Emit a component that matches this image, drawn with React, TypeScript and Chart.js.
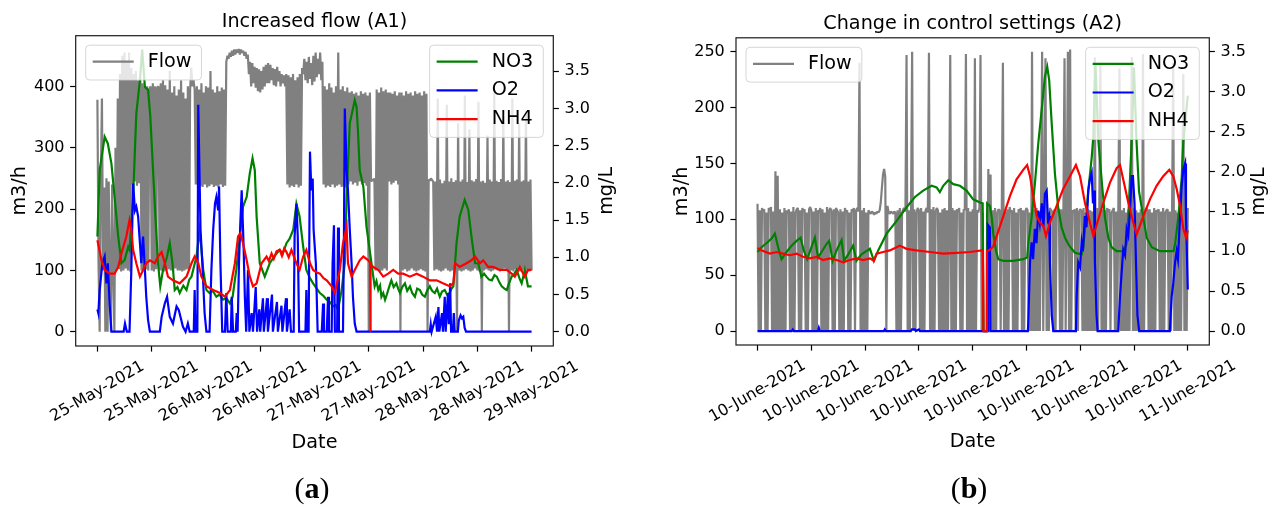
import React, { useEffect, useRef } from "react";
import { Chart, registerables } from "chart.js";

Chart.register(...registerables);

const FONT = '"DejaVu Sans", sans-serif';

// ---------------- Panel (a): Increased flow (A1) ----------------
const TICK_LABELS_A = ["25-May-2021", "25-May-2021", "26-May-2021", "26-May-2021", "27-May-2021", "27-May-2021", "28-May-2021", "28-May-2021", "29-May-2021"];
const TICK_HOURS_A = [0, 12, 24, 36, 48, 60, 72, 84, 96];
const SPAN_A_HOURS = 96;

// Flow (m3/h), evenly sampled over the 96 h window
const FLOW_A = [
  378, 110, 0, 240, 380, 100, 235, 0, 250, 0, 245, 100, 0, 240, 105, 0,
  300, 100, 380, 102, 420,
  98, 450, 100, 455, 103, 440, 100, 455, 98, 430,
  240, 420, 245, 425, 238, 410, 242,
  410, 100, 405, 98, 400, 102,
  400, 100, 395, 400, 100, 405, 98, 400, 102, 398, 400, 100, 405, 100, 410, 98, 402,
  100, 395, 102, 425, 100, 390, 98, 400, 103, 385, 100, 395, 100, 410, 98, 390, 100, 380, 102, 400, 100, 395, 430, 400, 410, 395,
  240, 400, 235, 395, 238, 405, 236, 390, 240, 400, 235, 398, 237, 425, 240, 395, 236, 390, 238, 400, 235, 392, 240, 398, 236, 395, 238,
  440, 450, 445, 455, 448, 458, 450, 460, 452, 460, 455, 461, 452, 460, 455, 458, 450, 456, 445, 452,
  420, 440, 400, 438, 405, 432, 398, 430, 392, 428, 390, 425, 395, 432, 400, 435, 405, 438,
  405, 435, 410, 430, 402, 428, 400, 432, 408, 425, 400, 420, 405, 418, 400,
  420, 240, 418, 235, 415, 238, 420, 236, 410, 240, 415, 235, 420, 238, 430,
  420, 445, 410, 440, 405, 448, 412, 438, 402, 450, 408, 455, 415, 445, 420, 455, 410, 440,
  240, 400, 235, 395, 238, 405, 236, 398, 240, 390, 235, 400, 238, 455, 240, 395, 236, 400, 238, 392, 235, 398, 240, 390,
  245, 392, 240, 388, 243, 390, 238, 385, 245, 392, 240, 388, 242, 390, 238, 385, 0, 390, 245, 248, 246, 250,
  100, 395, 102, 390, 98, 398, 100, 392, 103, 395, 100, 390,
  245, 390, 240, 388, 243, 392, 246, 385, 240, 390,
  0, 390, 100, 385, 102, 392, 98, 388, 100, 390, 103, 385, 100, 392, 98, 388, 100, 390, 102, 385, 100, 392, 98, 388,
  0, 248, 246, 250, 247, 245,
  100, 245, 102, 380, 100, 248, 98, 242, 100, 246, 103, 370, 100, 245, 98, 250, 100, 244, 102, 247,
  0, 340, 100, 245, 98, 248, 100, 385, 102, 244, 100, 330, 98, 247, 100, 245, 103, 249, 100, 375,
  98, 245, 0, 246, 100, 243, 102, 320, 100, 248, 98, 245, 100, 390, 102, 246, 100, 244, 98, 249,
  100, 350, 103, 245, 100, 247, 0, 244, 100, 380, 98, 246, 102, 248, 100, 340, 98, 245, 100, 247,
  102, 360, 100, 245, 98, 248, 100,
];

// [hour, mg/L]
const NO3_A = [
  [0, 1.28], [0.5, 2.17], [1.6, 2.62], [2.3, 2.53], [3.1, 2.26], [3.8, 1.81], [4.6, 1.28], [5.3, 0.92], [6.0, 0.96],
  [6.8, 1.14], [7.1, 1.1], [7.9, 1.81], [8.6, 2.93], [9.4, 3.38], [9.9, 3.79], [10.5, 3.29], [11.2, 3.25], [11.7, 2.89],
  [12.3, 2.17], [12.9, 1.46], [13.4, 0.92], [13.9, 0.61], [14.5, 0.83], [15.4, 1.01], [16.0, 1.19], [16.6, 0.92],
  [17.1, 0.56], [17.7, 0.6], [18.2, 0.52], [19.0, 0.62], [19.7, 0.56], [20.3, 0.7], [20.8, 0.74], [21.9, 1.01], [22.6, 1.37],
  [23.4, 0.83], [24.1, 0.56], [24.8, 0.52], [25.5, 0.55], [26.3, 0.47], [27.0, 0.5], [27.8, 0.43], [28.5, 0.45], [29.3, 0.38],
  [29.9, 0.47], [30.7, 0.83], [31.5, 1.28], [32.2, 1.68], [33.0, 1.81], [33.7, 2.13], [34.3, 2.33], [34.8, 2.17],
  [35.2, 1.55], [35.9, 0.92], [37.0, 0.74], [38.1, 0.92], [39.2, 1.02], [40.3, 1.1], [41.0, 1.05], [41.8, 1.19], [42.5, 1.25],
  [43.3, 1.37], [44.0, 1.72], [44.7, 1.55], [45.5, 1.14], [46.2, 0.83], [47.0, 0.72], [47.7, 0.65], [48.5, 0.58],
  [49.2, 0.52], [50.0, 0.48], [50.7, 0.43], [51.4, 0.4], [52.1, 0.34], [52.7, 0.36], [53.2, 0.29], [54.0, 0.56], [54.7, 0.92],
  [55.1, 1.81], [55.8, 2.8], [56.9, 3.11], [57.3, 3.02], [57.6, 2.71], [58.0, 2.17], [58.8, 1.95], [59.5, 1.41],
  [60.2, 1.1], [61.0, 0.74], [61.3, 0.61], [61.7, 0.68], [62.1, 0.56], [62.5, 0.62], [62.8, 0.47], [63.2, 0.52], [63.6, 0.43],
  [64.0, 0.5], [64.3, 0.56], [64.7, 0.64], [65.0, 0.69], [65.5, 0.6], [66.1, 0.65], [66.5, 0.58], [66.9, 0.52], [67.4, 0.6],
  [68.0, 0.65], [68.5, 0.55], [69.1, 0.61], [69.6, 0.52], [70.2, 0.47], [70.7, 0.58], [71.3, 0.56], [71.8, 0.5],
  [72.4, 0.47], [72.9, 0.55], [73.5, 0.61], [74.0, 0.55], [74.6, 0.52], [75.1, 0.58], [75.7, 0.47], [76.2, 0.54],
  [76.8, 0.56], [77.3, 0.5], [77.9, 0.52], [78.3, 0.58], [78.7, 0.61], [79.4, 1.19], [80.1, 1.55], [81.2, 1.77],
  [82.0, 1.64], [82.7, 1.28], [83.5, 0.92], [84.2, 0.92], [84.9, 0.74], [85.5, 0.78], [86.0, 0.74], [86.6, 0.7],
  [87.2, 0.69], [87.8, 0.76], [88.3, 0.74], [88.9, 0.66], [89.4, 0.61], [90.0, 0.58], [90.5, 0.56], [91.0, 0.65],
  [91.6, 0.74], [92.2, 0.78], [92.7, 0.83], [93.3, 0.72], [93.8, 0.65], [94.5, 0.83], [95.2, 0.61], [96.0, 0.61],
];

const O2_A = [
  [0, 0.3], [0.2, 0.25], [0.5, 0.56], [1.1, 0.92], [1.6, 1.01], [2.0, 0.65], [2.3, 0.92], [2.7, 0.38], [3.1, 0],
  [5.8, 0], [6.1, 0.11], [6.5, 0], [7.1, 0], [7.5, 0.83], [7.9, 1.99], [8.3, 1.63], [8.6, 1.68], [9.0, 1.55],
  [9.4, 1.19], [9.7, 0.92], [10.1, 1.28], [10.5, 0.83], [10.8, 0.47], [11.2, 0.16], [11.6, 0], [13.8, 0],
  [14.2, 0.2], [14.9, 0.38], [15.4, 0.47], [16.0, 0.2], [16.7, 0.11], [17.5, 0.34], [18.0, 0.29], [18.9, 0.07],
  [19.5, 0], [20.0, 0.11], [20.4, 0], [21.3, 0], [21.5, 0.56], [21.7, 0], [22.1, 0], [22.3, 3.05], [22.8, 1.37],
  [23.2, 0.92], [23.7, 0.25], [24.1, 0], [24.8, 0], [25.2, 0.83], [25.6, 1.37], [26.0, 1.72], [26.3, 1.81],
  [26.7, 1.63], [26.9, 1.95], [27.2, 0.92], [27.6, 0], [28.2, 0], [28.5, 0.52], [28.8, 0], [29.5, 0], [29.7, 0.47],
  [30.0, 0], [30.6, 0], [30.8, 0.25], [31.0, 0], [31.3, 0.92], [31.6, 1.46], [31.9, 1.9], [32.3, 1.2], [32.6, 0.47],
  [32.9, 0], [33.3, 0.83], [33.6, 0], [34.1, 0.25], [34.4, 0], [35.0, 0.6], [35.3, 0], [35.8, 0.3], [36.0, 0],
  [36.6, 0.45], [36.8, 0], [37.5, 0.45], [37.7, 0], [38.6, 0.5], [38.8, 0], [39.7, 0.4], [39.9, 0], [40.7, 0.35],
  [40.9, 0], [41.7, 0.45], [41.9, 0], [42.5, 0.3], [42.8, 0], [43.4, 0], [43.6, 1.28], [44.0, 1.72], [44.3, 1.28],
  [44.6, 0], [46.0, 0], [46.2, 0.56], [46.4, 0], [46.7, 0], [47.0, 2.42], [47.3, 1.9], [47.6, 2.06], [47.8, 1.37],
  [48.3, 0.92], [48.7, 0], [49.6, 0], [49.9, 0.38], [50.1, 0], [50.7, 0], [51.0, 0.47], [51.2, 0], [51.8, 0],
  [52.0, 0.92], [52.3, 1.43], [52.5, 0], [53.0, 0], [53.2, 1.4], [53.4, 0], [54.3, 0], [54.5, 1.2], [54.7, 3.0],
  [55.1, 2.17], [55.4, 1.9], [55.8, 1.37], [56.2, 0.92], [56.5, 0.47], [56.9, 0.11], [57.3, 0], [73.5, 0],
  [73.7, 0.1], [73.9, 0], [74.8, 0.2], [75.1, 0], [75.4, 0.33], [75.6, 0], [76.2, 0.25], [76.4, 0], [76.8, 0.47],
  [77.0, 0], [77.5, 0.52], [77.7, 0.1], [78.0, 0.65], [78.2, 0], [78.6, 0], [78.8, 0.25], [79.0, 0], [79.7, 0],
  [79.9, 0.15], [80.3, 0.22], [80.6, 0.18], [80.9, 0.2], [81.2, 0.05], [81.5, 0], [96.0, 0],
];

const NH4_A = [
  [0, 1.23], [0.3, 1.14], [0.9, 0.96], [1.6, 0.83], [2.7, 0.78], [3.8, 0.78], [4.6, 0.87], [5.3, 1.05], [6.4, 1.28],
  [7.1, 1.5], [7.5, 1.37], [7.9, 1.1], [8.6, 0.92], [9.4, 0.74], [10.1, 0.83], [10.8, 0.92], [11.6, 0.96],
  [12.7, 0.92], [13.4, 1.01], [14.2, 1.07], [14.9, 0.92], [15.6, 0.74], [16.7, 0.69], [18.2, 0.65], [19.7, 0.74],
  [20.8, 0.92], [21.5, 1.01], [22.3, 0.92], [23.0, 0.74], [24.1, 0.61], [25.6, 0.56], [27.1, 0.52], [28.2, 0.47],
  [29.3, 0.56], [30.4, 0.92], [31.1, 1.28], [31.6, 1.32], [32.2, 1.19], [33.0, 0.96], [33.7, 0.74], [34.4, 0.61],
  [35.2, 0.65], [36.3, 0.92], [37.4, 1.01], [37.9, 0.95], [38.5, 1.05], [39.0, 0.98], [39.6, 1.08], [40.3, 1.1],
  [40.8, 1.02], [41.3, 1.12], [41.8, 1.07], [42.3, 1.0], [42.9, 1.1], [43.4, 1.02], [44.0, 0.92], [44.7, 0.83],
  [45.5, 1.01], [46.2, 1.1], [47.0, 0.92], [47.7, 0.83], [48.4, 0.8], [49.2, 0.78], [50.0, 0.72], [50.7, 0.69],
  [51.8, 0.61], [52.5, 0.52], [53.6, 0.83], [54.3, 1.19], [55.1, 1.41], [55.4, 0.92], [56.2, 0.74], [56.9, 0.83],
  [58.0, 0.96], [58.8, 1.01], [59.9, 0.96], [60.3, 0.93], [60.35, 0], [60.45, 0.9], [61.0, 0.87], [62.1, 0.83],
  [63.2, 0.74], [64.3, 0.78], [65.4, 0.83], [66.5, 0.78], [67.6, 0.78], [69.1, 0.74], [70.6, 0.78], [72.0, 0.74],
  [73.5, 0.69], [75.0, 0.69], [76.4, 0.65], [77.9, 0.61], [78.7, 0.65], [79.1, 0.92], [80.1, 0.87], [81.6, 0.92],
  [82.7, 0.96], [83.5, 1.01], [84.6, 0.92], [85.3, 0.96], [86.4, 0.87], [87.5, 0.87], [89.0, 0.83], [90.5, 0.83],
  [91.6, 0.78], [92.3, 0.74], [93.4, 0.87], [94.5, 0.74], [95.2, 0.83], [96.0, 0.83],
];

// ---------------- Panel (b): Change in control settings (A2) ----------------
const TICK_LABELS_B = ["10-June-2021", "10-June-2021", "10-June-2021", "10-June-2021", "10-June-2021", "10-June-2021", "10-June-2021", "10-June-2021", "11-June-2021"];
const TICK_HOURS_B = [0, 3, 6, 9, 12, 15, 18, 21, 24];
const SPAN_B_HOURS = 24;

const FLOW_B = [
  114, 0, 108, 0, 110, 107, 109, 0, 106, 0,
  110, 108, 111, 0, 107, 0, 143, 0, 139, 0,
  109, 0, 106, 0, 110, 0, 108, 105, 109, 0,
  107, 0, 111, 0, 106, 109, 110, 0, 108, 0,
  110, 107, 109, 0, 106, 0, 109, 111, 108, 0,
  107, 0, 110, 0, 108, 106, 110, 0, 109, 0,
  106, 0, 111, 0, 108, 110, 107, 0, 109, 0,
  110, 108, 106, 0, 109, 0, 107, 0, 110, 106,
  108, 0, 106, 0, 109, 107, 110, 0, 108, 110,
  107, 240, 0, 108, 0, 110, 0, 106, 0, 108,
  106, 105, 107, 106, 104, 106, 105, 107, 106, 108,
  115, 128, 140, 145, 138, 0, 112, 106, 105, 107,
  106, 105, 107, 106, 0, 108, 0, 110, 0, 106,
  109, 110, 107, 247, 0, 108, 0, 111, 250, 0,
  109, 0, 106, 110, 108, 0, 110, 0, 107, 0,
  108, 110, 106, 249, 0, 109, 0, 111, 0, 107,
  110, 108, 0, 106, 0, 109, 0, 110, 0, 108,
  0, 106, 247, 0, 110, 0, 108, 0, 109, 107,
  110, 0, 106, 0, 109, 108, 248, 0, 110, 0,
  107, 0, 109, 0, 244, 0, 108, 106, 110, 247,
  0, 106, 0, 0, 0, 0, 145, 0, 140, 0,
  108, 0, 110, 0, 106, 109, 108, 0, 110, 240,
  0, 107, 0, 109, 0, 111, 106, 108, 0, 110,
  0, 106, 0, 109, 107, 110, 0, 108, 0, 107,
  110, 108, 0, 106, 0, 250, 0, 109, 0, 110,
  0, 107, 0, 108, 250, 0, 109, 244, 0, 106,
  0, 110, 108, 107, 0, 109, 0, 106, 110, 108,
  0, 109, 0, 107, 244, 0, 110, 250, 0, 252,
  0, 108, 106, 109, 0, 110, 0, 107, 109, 108,
  0, 110, 0, 106, 0, 109, 0, 108, 0, 107,
  0, 245, 0, 110, 0, 106, 240, 0, 109, 0,
  108, 0, 110, 107, 109, 0, 106, 108, 110, 0,
  107, 0, 109, 235, 0, 108, 0, 110, 0, 106,
  0, 109, 0, 107, 245, 0, 110, 0, 108, 0,
  106, 0, 109, 0, 248, 0, 107, 110, 108, 0,
  109, 0, 106, 0, 110, 0, 108, 107, 109, 0,
  107, 0, 110, 0, 106, 108, 109, 0, 107, 0,
  110, 240, 0, 108, 0, 106, 0, 109, 0, 107,
  230, 0, 108, 0, 110,
];

const NO3_B = [
  [0, 0.99], [0.22, 1.05], [0.5, 1.1], [0.78, 1.16], [0.97, 1.22], [1.15, 1.05], [1.34, 0.9], [1.62, 0.99],
  [1.9, 1.07], [2.18, 1.13], [2.4, 1.17], [2.58, 1.01], [2.77, 0.9], [3.01, 1.05], [3.2, 1.17], [3.38, 0.92],
  [3.57, 0.99], [3.85, 1.09], [4.0, 1.13], [4.19, 0.88], [4.41, 1.01], [4.69, 1.14], [4.83, 0.88], [5.06, 0.96],
  [5.33, 1.07], [5.52, 0.88], [5.8, 0.96], [6.27, 1.03], [6.49, 0.88], [6.73, 1.01], [7.2, 1.22], [7.76, 1.38],
  [8.31, 1.55], [8.78, 1.68], [9.24, 1.76], [9.71, 1.82], [9.99, 1.8], [10.17, 1.74], [10.36, 1.82], [10.64, 1.89],
  [10.92, 1.84], [11.29, 1.82], [11.66, 1.76], [12.03, 1.65], [12.41, 1.61], [12.56, 1.6], [12.59, 0], [12.78, 0],
  [12.81, 1.6], [12.96, 1.57], [13.06, 1.43], [13.15, 1.22], [13.3, 1.01], [13.43, 0.9], [13.71, 0.88], [14.26, 0.88],
  [14.82, 0.9], [15.04, 0.92], [15.1, 1.09], [15.29, 1.42], [15.47, 1.84], [15.66, 2.35], [15.85, 2.77], [16.03, 3.19],
  [16.16, 3.31], [16.27, 3.14], [16.41, 2.6], [16.59, 1.97], [16.77, 1.55], [16.96, 1.3], [17.15, 1.17], [17.33, 1.09],
  [17.52, 1.03], [17.71, 0.98], [18.08, 0.96], [18.17, 1.05], [18.26, 1.26], [18.45, 1.76], [18.64, 2.17], [18.73, 2.43],
  [18.85, 3.35], [19.01, 2.39], [19.2, 1.88], [19.38, 1.42], [19.57, 1.17], [19.75, 1.05], [20.03, 1.0], [20.39, 1.0],
  [20.59, 1.09], [20.68, 1.42], [20.78, 1.92], [20.87, 2.38], [21.0, 3.3], [21.14, 2.38], [21.28, 1.75], [21.52, 1.42],
  [21.71, 1.17], [21.99, 1.05], [22.45, 1.0], [23.2, 1.0], [23.29, 1.09], [23.47, 1.42], [23.66, 1.92], [23.75, 2.38],
  [23.85, 2.6], [24.0, 2.95],
];

const O2_B = [
  [0, 0], [1.91, 0], [1.97, 0.02], [2.03, 0], [3.37, 0], [3.42, 0.04], [3.48, 0], [7.05, 0], [7.1, 0.02], [7.16, 0],
  [8.55, 0], [8.61, 0.02], [8.78, 0.02], [8.83, 0], [9.0, 0.02], [9.06, 0], [12.82, 0], [12.85, 1.33], [12.96, 1.3],
  [12.99, 0], [15.08, 0], [15.1, 0.1], [15.2, 0.86], [15.29, 1.11], [15.37, 0.9], [15.47, 1.28], [15.56, 1.1],
  [15.66, 1.51], [15.75, 1.35], [15.86, 1.6], [15.95, 1.3], [16.03, 1.72], [16.13, 1.76], [16.2, 1.4], [16.26, 1.44],
  [16.31, 0.86], [16.41, 0.2], [16.5, 0], [17.76, 0], [17.8, 0.43], [17.89, 0.86], [17.99, 0.8], [18.08, 1.11],
  [18.15, 1.0], [18.26, 1.44], [18.35, 1.3], [18.45, 1.76], [18.54, 1.9], [18.64, 1.98], [18.71, 1.6], [18.77, 1.76],
  [18.82, 0.86], [18.91, 0.2], [18.97, 0], [20.12, 0], [20.22, 0.43], [20.3, 0.7], [20.4, 1.02], [20.5, 0.95],
  [20.59, 1.28], [20.68, 1.2], [20.78, 1.51], [20.87, 1.94], [20.94, 1.94], [21.03, 1.6], [21.11, 0.86], [21.19, 0.2],
  [21.29, 0], [23.0, 0], [23.1, 0.43], [23.19, 0.6], [23.29, 0.86], [23.38, 1.0], [23.45, 0.9], [23.57, 1.44],
  [23.66, 1.82], [23.75, 2.02], [23.85, 2.1], [23.9, 1.44], [24.0, 0.52],
];

const NH4_B = [
  [0, 1.04], [0.24, 1.01], [0.69, 0.97], [1.06, 0.99], [1.43, 0.97], [1.8, 0.95], [2.18, 0.97], [2.54, 0.93],
  [2.92, 0.91], [3.29, 0.93], [3.66, 0.89], [4.03, 0.91], [4.41, 0.89], [4.78, 0.86], [5.15, 0.89], [5.52, 0.91],
  [5.89, 0.89], [6.27, 0.91], [6.49, 0.88], [6.64, 0.97], [7.01, 0.99], [7.38, 1.01], [7.76, 1.05], [7.94, 1.07],
  [8.31, 1.03], [8.87, 1.01], [9.62, 0.99], [10.36, 0.97], [11.11, 0.98], [11.85, 0.99], [12.5, 1.01], [12.57, 1.0],
  [12.6, 0], [12.77, 0], [12.8, 1.0], [12.96, 1.02], [13.15, 1.06], [13.34, 1.19], [13.71, 1.44], [14.08, 1.69],
  [14.45, 1.9], [14.82, 2.02], [15.04, 2.08], [15.2, 1.94], [15.38, 1.69], [15.57, 1.44], [15.75, 1.36], [15.94, 1.32],
  [16.09, 1.19], [16.31, 1.36], [16.69, 1.57], [17.05, 1.78], [17.43, 1.94], [17.76, 2.08], [17.99, 1.94], [18.26, 1.61],
  [18.54, 1.36], [18.73, 1.19], [19.01, 1.4], [19.29, 1.61], [19.66, 1.86], [20.03, 2.04], [20.22, 2.08], [20.4, 1.9],
  [20.68, 1.61], [20.96, 1.36], [21.15, 1.21], [21.52, 1.44], [21.89, 1.65], [22.26, 1.82], [22.63, 1.94], [22.97, 2.02],
  [23.19, 1.94], [23.38, 1.78], [23.57, 1.57], [23.75, 1.28], [23.9, 1.17], [24.0, 1.26],
];

const MG_TICKS = [0, 0.5, 1, 1.5, 2, 2.5, 3, 3.5];

const PANEL_A = {
  key: "a",
  title: "Increased flow (A1)",
  tickLabels: TICK_LABELS_A,
  tickHours: TICK_HOURS_A,
  span: SPAN_A_HOURS,
  xMin: -4.8,
  xMax: 100.8,
  yMin: -23.3,
  yMax: 482.6,
  yTicks: [0, 100, 200, 300, 400],
  y1Min: -0.192,
  y1Max: 3.978,
  top: 35.7,
  yLeftW: 75.7,
  yRightW: 86.7,
  xAxisH: 161,
  yTitleX: 20,
  y1TitleX: 607,
  letterX: 312,
  flow: FLOW_A,
  no3: NO3_A,
  o2: O2_A,
  nh4: NH4_A,
};

const PANEL_B = {
  key: "b",
  title: "Change in control settings (A2)",
  tickLabels: TICK_LABELS_B,
  tickHours: TICK_HOURS_B,
  span: SPAN_B_HOURS,
  xMin: -1.2,
  xMax: 25.2,
  yMin: -12.5,
  yMax: 262.4,
  yTicks: [0, 50, 100, 150, 200, 250],
  y1Min: -0.175,
  y1Max: 3.674,
  top: 37.8,
  yLeftW: 96,
  yRightW: 70.7,
  xAxisH: 162,
  yTitleX: 42,
  y1TitleX: 619,
  letterX: 329,
  flow: FLOW_B,
  no3: NO3_B,
  o2: O2_B,
  nh4: NH4_B,
};

const LINE_W = 2.2;

function drawLegend(ctx: CanvasRenderingContext2D, x0: number, y0: number, items: { label: string; color: string }[], anchorRight: boolean) {
  ctx.save();
  ctx.font = `19.2px ${FONT}`;
  const textW = Math.max(...items.map((it) => ctx.measureText(it.label).width));
  const w = 62 + textW + 10;
  const rowH = 28.7;
  const h = 16.5 + (items.length - 1) * rowH + 18.3;
  const x = anchorRight ? x0 - w : x0;
  const r = 4;
  ctx.beginPath();
  ctx.moveTo(x + r, y0);
  ctx.lineTo(x + w - r, y0);
  ctx.quadraticCurveTo(x + w, y0, x + w, y0 + r);
  ctx.lineTo(x + w, y0 + h - r);
  ctx.quadraticCurveTo(x + w, y0 + h, x + w - r, y0 + h);
  ctx.lineTo(x + r, y0 + h);
  ctx.quadraticCurveTo(x, y0 + h, x, y0 + h - r);
  ctx.lineTo(x, y0 + r);
  ctx.quadraticCurveTo(x, y0, x + r, y0);
  ctx.closePath();
  ctx.fillStyle = "rgba(255,255,255,0.8)";
  ctx.fill();
  ctx.strokeStyle = "rgba(204,204,204,0.8)";
  ctx.lineWidth = 1;
  ctx.stroke();
  items.forEach((it, k) => {
    const cy = y0 + 16.5 + k * rowH;
    ctx.beginPath();
    ctx.moveTo(x + 7, cy);
    ctx.lineTo(x + 48, cy);
    ctx.strokeStyle = it.color;
    ctx.lineWidth = LINE_W;
    ctx.stroke();
    ctx.fillStyle = "#000";
    ctx.textAlign = "left";
    ctx.textBaseline = "middle";
    ctx.fillText(it.label, x + 62, cy);
  });
  ctx.restore();
}

function decorPlugin(P: any) {
  return {
    id: "decor_" + P.key,
    afterDraw(chart: any) {
      const ctx: CanvasRenderingContext2D = chart.ctx;
      const ca = chart.chartArea;
      const xs = chart.scales.x;
      const cx = (ca.left + ca.right) / 2;
      const cy = (ca.top + ca.bottom) / 2;
      ctx.save();

      drawLegend(ctx, ca.left + 10, ca.top + 9.5, [{ label: "Flow", color: "#808080" }], false);
      drawLegend(
        ctx,
        ca.right - 10,
        ca.top + 9.5,
        [
          { label: "NO3", color: "#008000" },
          { label: "O2", color: "#0000ff" },
          { label: "NH4", color: "#ff0000" },
        ],
        true
      );

      ctx.strokeStyle = "#1a1a1a";
      ctx.lineWidth = 1.2;
      ctx.strokeRect(ca.left, ca.top, ca.right - ca.left, ca.bottom - ca.top);

      ctx.fillStyle = "#000";
      ctx.font = `16px ${FONT}`;
      const th = Math.PI / 6;
      P.tickLabels.forEach((lab: string, k: number) => {
        const px = xs.getPixelForValue(P.tickHours[k]);
        const w = ctx.measureText(lab).width;
        const hh = 16 * 1.17;
        const H = w * Math.sin(th) + hh * Math.cos(th);
        const yc = ca.bottom + 11.2 + H / 2;
        ctx.save();
        ctx.translate(px, yc);
        ctx.rotate(-th);
        ctx.textAlign = "center";
        ctx.textBaseline = "middle";
        ctx.fillText(lab, 0, 0);
        ctx.restore();
      });

      ctx.font = `19.2px ${FONT}`;
      ctx.textAlign = "center";
      ctx.textBaseline = "alphabetic";
      ctx.fillText("Date", cx, ca.bottom + 102);
      ctx.fillText(P.title, cx, ca.top - 9);

      ctx.textBaseline = "middle";
      ctx.save();
      ctx.translate(P.yTitleX, cy);
      ctx.rotate(-Math.PI / 2);
      ctx.fillText("m3/h", 0, 0);
      ctx.restore();
      ctx.save();
      ctx.translate(P.y1TitleX, cy);
      ctx.rotate(-Math.PI / 2);
      ctx.fillText("mg/L", 0, 0);
      ctx.restore();

      ctx.textBaseline = "alphabetic";
      ctx.textAlign = "left";
      const serifN = `30px "Liberation Serif", "Times New Roman", serif`;
      const serifB = `bold 30px "Liberation Serif", "Times New Roman", serif`;
      ctx.font = serifN;
      const wo = ctx.measureText("(").width;
      const wc = ctx.measureText(")").width;
      ctx.font = serifB;
      const wl = ctx.measureText(P.key).width;
      const total = wo + wl + wc;
      let lx = P.letterX - total / 2;
      const by = 498;
      ctx.font = serifN;
      ctx.fillText("(", lx, by);
      lx += wo;
      ctx.font = serifB;
      ctx.fillText(P.key, lx, by);
      lx += wl;
      ctx.font = serifN;
      ctx.fillText(")", lx, by);

      ctx.restore();
    },
  };
}

function buildChart(canvas: HTMLCanvasElement, P: any) {
  const pairs = (arr: number[][]) => arr.map(([x, y]) => ({ x, y }));
  const flowPts = P.flow.map((v: number, i: number) => ({ x: (i * P.span) / (P.flow.length - 1), y: v }));
  const tickFont = { family: FONT, size: 16 };
  const gridCommon = {
    drawOnChartArea: false,
    drawTicks: true,
    tickLength: 5.6,
    tickWidth: 1.2,
    tickColor: "#000",
  };
  return new Chart(canvas, {
    type: "line",
    data: {
      datasets: [
        { label: "NH4", data: pairs(P.nh4), yAxisID: "y1", borderColor: "#ff0000", borderWidth: LINE_W, pointRadius: 0, tension: 0, order: 1 },
        { label: "O2", data: pairs(P.o2), yAxisID: "y1", borderColor: "#0000ff", borderWidth: LINE_W, pointRadius: 0, tension: 0, order: 2 },
        { label: "NO3", data: pairs(P.no3), yAxisID: "y1", borderColor: "#008000", borderWidth: LINE_W, pointRadius: 0, tension: 0, order: 3 },
        { label: "Flow", data: flowPts, yAxisID: "y", borderColor: "#808080", borderWidth: LINE_W, borderJoinStyle: "bevel", pointRadius: 0, tension: 0, order: 4 },
      ],
    },
    options: {
      responsive: false,
      animation: false,
      events: [],
      layout: { padding: { top: P.top, left: 0, right: 0, bottom: 0 } },
      plugins: { legend: { display: false }, tooltip: { enabled: false }, title: { display: false } },
      scales: {
        x: {
          type: "linear",
          min: P.xMin,
          max: P.xMax,
          afterBuildTicks: (s: any) => {
            s.ticks = P.tickHours.map((v: number) => ({ value: v }));
          },
          afterFit: (s: any) => {
            s.height = P.xAxisH;
          },
          ticks: { display: false },
          grid: gridCommon,
          border: { display: false },
        },
        y: {
          type: "linear",
          position: "left",
          min: P.yMin,
          max: P.yMax,
          afterBuildTicks: (s: any) => {
            s.ticks = P.yTicks.map((v: number) => ({ value: v }));
          },
          afterFit: (s: any) => {
            s.width = P.yLeftW;
          },
          ticks: { font: tickFont, color: "#000", padding: 5.6, callback: (v: any) => String(v) },
          grid: gridCommon,
          border: { display: false },
        },
        y1: {
          type: "linear",
          position: "right",
          min: P.y1Min,
          max: P.y1Max,
          afterBuildTicks: (s: any) => {
            s.ticks = MG_TICKS.map((v: number) => ({ value: v }));
          },
          afterFit: (s: any) => {
            s.width = P.yRightW;
          },
          ticks: { font: tickFont, color: "#000", padding: 5.6, callback: (v: any) => Number(v).toFixed(1) },
          grid: gridCommon,
          border: { display: false },
        },
      },
    },
    plugins: [decorPlugin(P)],
  } as any);
}

function Panel({ cfg, left }: { cfg: any; left: number }) {
  const ref = useRef<HTMLCanvasElement>(null);
  useEffect(() => {
    const chart = buildChart(ref.current as HTMLCanvasElement, cfg);
    return () => chart.destroy();
  }, [cfg]);
  return (
    <canvas
      ref={ref}
      width={640}
      height={507}
      style={{ position: "absolute", left, top: 0, width: 640, height: 507 }}
    />
  );
}

export default function App() {
  return (
    <div style={{ position: "absolute", left: 0, top: 0, width: 1280, height: 507, background: "#fff", overflow: "hidden" }}>
      <Panel cfg={PANEL_A} left={0} />
      <Panel cfg={PANEL_B} left={640} />
    </div>
  );
}
